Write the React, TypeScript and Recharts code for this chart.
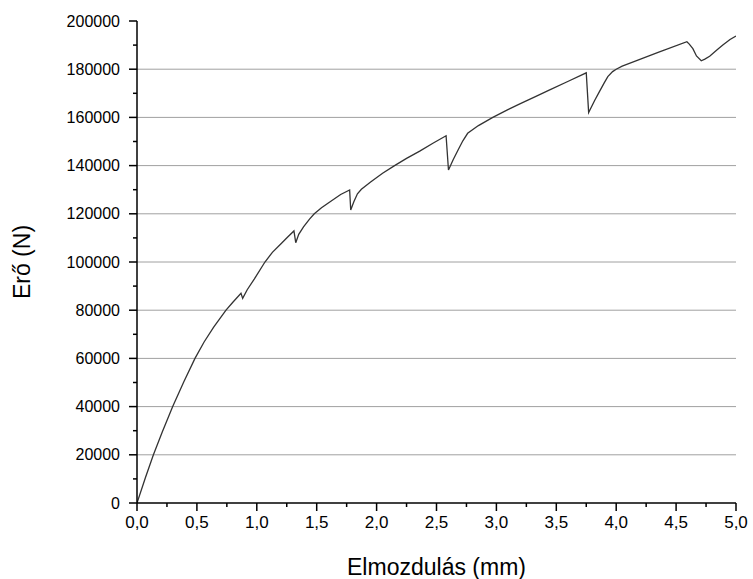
import { LineChart, Line, XAxis, YAxis, ReferenceLine } from 'recharts'

const displacement = [
  0, 0.07, 0.137, 0.21, 0.298, 0.39, 0.484, 0.56, 0.64, 0.743, 0.8, 0.868, 0.882, 0.92, 0.98,
  1.068, 1.13, 1.2, 1.26, 1.31, 1.325, 1.35, 1.39, 1.44, 1.48, 1.54, 1.6, 1.7, 1.775, 1.784,
  1.81, 1.84, 1.873, 1.95, 2.05, 2.15, 2.25, 2.36, 2.47, 2.58, 2.6, 2.64, 2.68, 2.72, 2.76,
  2.85, 2.97, 3.1, 3.2, 3.33, 3.445, 3.6, 3.75, 3.77, 3.82, 3.86, 3.9, 3.93, 3.97, 4.0, 4.05,
  4.11, 4.35, 4.59, 4.61, 4.64, 4.67, 4.71, 4.74, 4.78, 4.84, 4.89, 4.95, 5.0,
]
const force = [
  0, 10500, 20000, 29400, 40000, 50200, 60000, 66800, 73000, 80000, 83300, 87000, 84900, 88500,
  93000, 100000, 104000, 107500, 110500, 112900, 108000, 111500, 114600, 117800, 120000, 122500,
  124600, 128000, 129900, 121600, 125000, 128300, 130200, 133200, 136800, 140000, 143000, 146000,
  149300, 152400, 138200, 142500, 146500, 150300, 153400, 156600, 160000, 163300, 165700, 168700,
  171400, 175000, 178500, 162000, 167000, 170700, 174300, 176900, 179000, 180000, 181300, 182400,
  187000, 191400, 190400, 188500, 185500, 183500, 184200, 185400, 188000, 190000, 192300, 193800,
]

const xTicks = [0, 0.25, 0.5, 0.75, 1, 1.25, 1.5, 1.75, 2, 2.25, 2.5, 2.75, 3, 3.25, 3.5, 3.75, 4, 4.25, 4.5, 4.75, 5]
const yTicks = [
  0, 10000, 20000, 30000, 40000, 50000, 60000, 70000, 80000, 90000, 100000, 110000, 120000,
  130000, 140000, 150000, 160000, 170000, 180000, 190000, 200000,
]
const gridLines = [20000, 40000, 60000, 80000, 100000, 120000, 140000, 160000, 180000]

const data = displacement.map((d, i) => ({ d, f: force[i] }))

const FONT = 'Arial, "Liberation Sans", sans-serif'
const AXIS_X = 137
const AXIS_Y = 503

function XTick(props: any) {
  const { x, payload } = props
  const v = payload.value as number
  const major = Math.abs(v * 2 - Math.round(v * 2)) < 1e-6
  return (
    <g>
      <line x1={x} x2={x} y1={AXIS_Y} y2={AXIS_Y + (major ? 8 : 4)} stroke="#000" strokeWidth={1.5} />
      {major && (
        <text x={x} y={AXIS_Y + 19} textAnchor="middle" dominantBaseline="central" fontSize={17} fontFamily={FONT} fill="#000">
          {v.toFixed(1).replace('.', ',')}
        </text>
      )}
    </g>
  )
}

function YTick(props: any) {
  const { y, payload } = props
  const v = payload.value as number
  const major = v % 20000 === 0
  return (
    <g>
      <line x1={AXIS_X - (major ? 8 : 4)} x2={AXIS_X} y1={y} y2={y} stroke="#000" strokeWidth={1.5} />
      {major && (
        <text x={120} y={y} textAnchor="end" dominantBaseline="central" fontSize={16} fontFamily={FONT} fill="#000">
          {v}
        </text>
      )}
    </g>
  )
}

export default function App() {
  return (
    <div style={{ position: 'absolute', left: 0, top: 0, background: '#fff' }}>
      <LineChart width={753} height={579} data={data} margin={{ top: 21, right: 17, left: 0, bottom: 0 }}>
        {gridLines.map(g => (
          <ReferenceLine key={g} y={g} stroke="#a0a0a0" strokeWidth={1} />
        ))}
        <XAxis
          dataKey="d"
          type="number"
          domain={[0, 5]}
          ticks={xTicks}
          interval={0}
          height={76}
          tickLine={false}
          axisLine={{ stroke: '#000', strokeWidth: 1.5 }}
          tick={<XTick />}
          allowDataOverflow
          label={{ value: 'Elmozdulás (mm)', position: 'insideBottom', offset: 4, fontSize: 23, fontFamily: FONT, fill: '#000' }}
        />
        <YAxis
          type="number"
          domain={[0, 200000]}
          ticks={yTicks}
          interval={0}
          width={137}
          tickLine={false}
          axisLine={{ stroke: '#000', strokeWidth: 1.5 }}
          tick={<YTick />}
          allowDataOverflow
          label={{ value: 'Erő (N)', angle: -90, position: 'insideLeft', offset: 22, fontSize: 23, fontFamily: FONT, fill: '#000', style: { textAnchor: 'middle' } }}
        />
        <Line type="linear" dataKey="f" stroke="#333" strokeWidth={1.3} dot={false} isAnimationActive={false} />
      </LineChart>
    </div>
  )
}
